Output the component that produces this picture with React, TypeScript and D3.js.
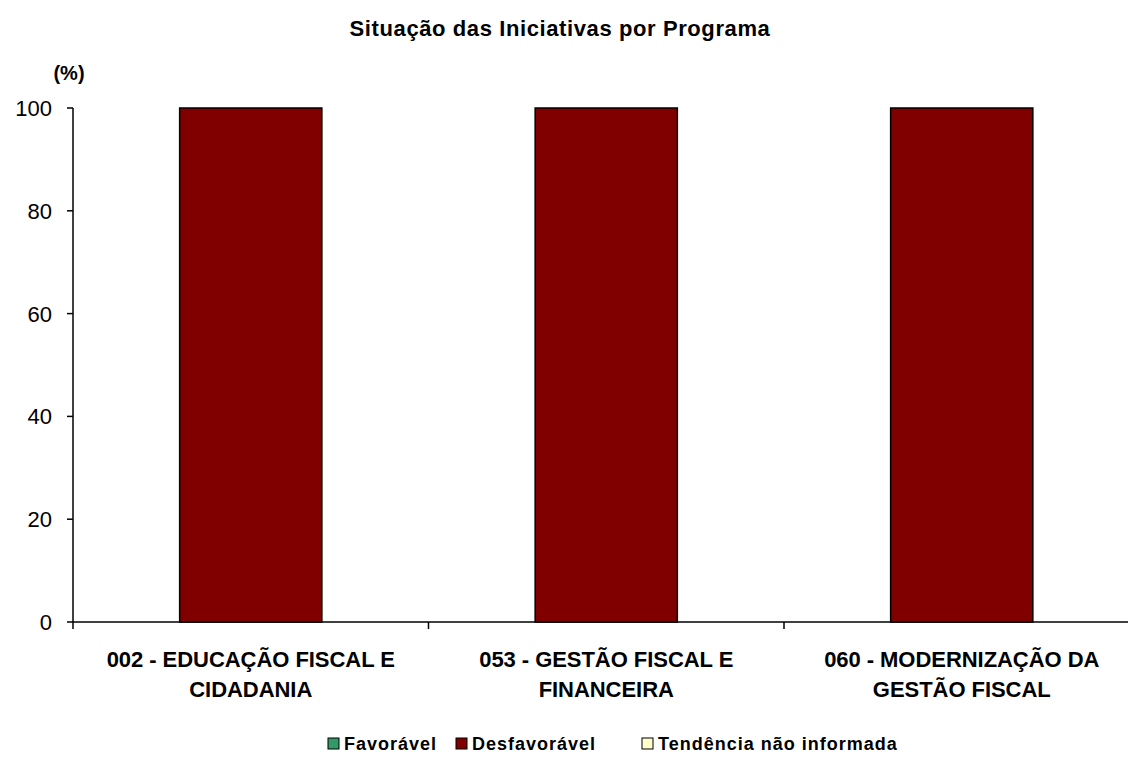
import React, { useRef, useEffect } from 'react';
import * as d3 from 'd3';

const programas = [
  ["002 - EDUCAÇÃO FISCAL E", "CIDADANIA"],
  ["053 - GESTÃO FISCAL E", "FINANCEIRA"],
  ["060 - MODERNIZAÇÃO DA", "GESTÃO FISCAL"],
];
const favoravel = [0, 0, 0];
const desfavoravel = [100, 100, 100];
const naoInformada = [0, 0, 0];
const yTicks = [0, 20, 40, 60, 80, 100];

const series = [
  { name: "Favorável", values: favoravel, color: "#339966" },
  { name: "Desfavorável", values: desfavoravel, color: "#800000" },
  { name: "Tendência não informada", values: naoInformada, color: "#FFFFCC" },
];

const App = () => {
  const svgRef = useRef<SVGSVGElement>(null);

  useEffect(() => {
    const svgEl = d3.select(svgRef.current);
    svgEl.selectAll("*").remove();

    const W = 1128, H = 763;
    const margin = { top: 108, left: 73, bottom: 141 };
    const plotW = 355.5 * 3;
    const height = H - margin.top - margin.bottom;

    svgEl.attr("width", W).attr("height", H);
    const font = "'Liberation Sans', Arial, sans-serif";

    const svg = svgEl.append("g")
      .attr("transform", `translate(${margin.left},${margin.top})`);

    const keys = programas.map((_, i) => String(i));
    const x = d3.scaleBand().domain(keys).range([0, plotW]).paddingInner(0.6).paddingOuter(0.3);
    const xOuter = d3.scaleBand().domain(keys).range([0, plotW]);
    const y = d3.scaleLinear().domain([0, 100]).range([height, 0]);

    // stacked data
    const rows = programas.map((_, i) => {
      const r: any = { key: String(i) };
      series.forEach(s => { r[s.name] = s.values[i]; });
      return r;
    });
    const stack = d3.stack().keys(series.map(s => s.name))(rows);

    stack.forEach((layer, li) => {
      svg.append("g")
        .selectAll("rect")
        .data(layer.filter(d => d[1] - d[0] > 0))
        .enter()
        .append("rect")
        .attr("x", d => x((d.data as any).key)!)
        .attr("y", d => y(d[1]))
        .attr("width", x.bandwidth())
        .attr("height", d => y(d[0]) - y(d[1]))
        .attr("fill", series[li].color)
        .attr("stroke", "#000")
        .attr("stroke-width", 1.5);
    });

    // y axis
    svg.append("line")
      .attr("x1", 0).attr("x2", 0).attr("y1", 0).attr("y2", height)
      .attr("stroke", "#000").attr("stroke-width", 1.5);
    yTicks.forEach(t => {
      svg.append("line")
        .attr("x1", -6).attr("x2", 0).attr("y1", y(t)).attr("y2", y(t))
        .attr("stroke", "#000").attr("stroke-width", 1.5);
      svg.append("text")
        .attr("x", -21).attr("y", y(t)).attr("dy", "0.36em")
        .attr("text-anchor", "end")
        .style("font-family", font).style("font-size", "22px")
        .text(t);
    });

    // x axis
    svg.append("line")
      .attr("x1", 0).attr("x2", plotW).attr("y1", height).attr("y2", height)
      .attr("stroke", "#000").attr("stroke-width", 1.5);
    keys.forEach(k => {
      svg.append("line")
        .attr("x1", xOuter(k)!).attr("x2", xOuter(k)!)
        .attr("y1", height).attr("y2", height + 7)
        .attr("stroke", "#000").attr("stroke-width", 1.5);
    });
    programas.forEach((lines, i) => {
      const cx = xOuter(String(i))! + xOuter.bandwidth() / 2;
      lines.forEach((line, li) => {
        svg.append("text")
          .attr("x", cx).attr("y", height + 45 + li * 30)
          .attr("text-anchor", "middle")
          .style("font-family", font).style("font-size", "22px")
          .style("font-weight", "bold").style("letter-spacing", "-0.05px")
          .text(line);
      });
    });

    // title
    svgEl.append("text")
      .attr("x", 560).attr("y", 36)
      .attr("text-anchor", "middle")
      .style("font-family", font).style("font-size", "22px").style("font-weight", "bold")
      .style("letter-spacing", "0.6px")
      .text("Situação das Iniciativas por Programa");

    svgEl.append("text")
      .attr("x", 69).attr("y", 80)
      .attr("text-anchor", "middle")
      .style("font-family", font).style("font-size", "20px").style("font-weight", "bold")
      .text("(%)");

    // legend
    const legend = svgEl.append("g").attr("transform", "translate(0,750)");
    const offsets = [328, 456, 642];
    series.forEach((s, i) => {
      const g = legend.append("g").attr("transform", `translate(${offsets[i]},0)`);
      g.append("rect")
        .attr("x", 0).attr("y", -12).attr("width", 11).attr("height", 11)
        .attr("fill", s.color).attr("stroke", "#000").attr("stroke-width", 1);
      g.append("text")
        .attr("x", 16).attr("y", 0)
        .style("font-family", font).style("font-size", "18px").style("font-weight", "bold")
        .style("letter-spacing", "1px")
        .text(s.name);
    });
  }, []);

  return (
    <div style={{ position: "absolute", left: 0, top: 0, width: 1128, height: 763, background: "#fff" }}>
      <svg ref={svgRef}></svg>
    </div>
  );
};

export default App;
